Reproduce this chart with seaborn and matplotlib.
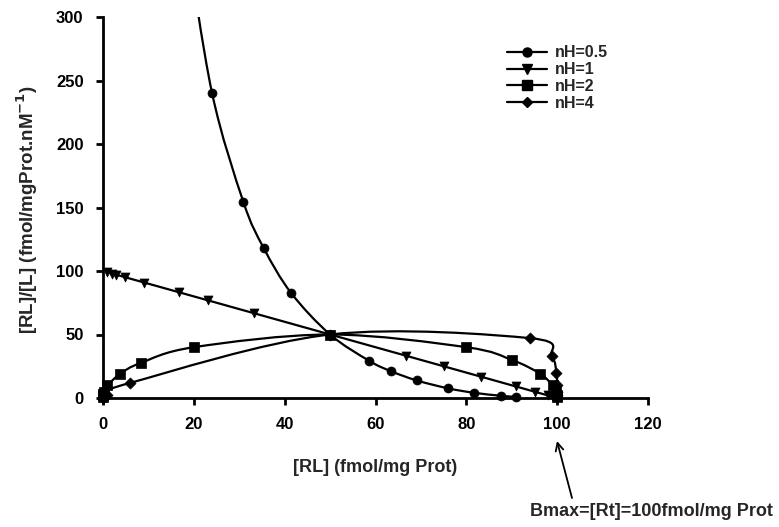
import numpy as np
import matplotlib
matplotlib.use("Agg")
import matplotlib.pyplot as plt
from matplotlib.path import Path
from matplotlib.patches import PathPatch
from matplotlib.lines import Line2D
import seaborn as sns
import pandas as pd

# ---- data ----
series_labels = ["nH=0.5", "nH=1", "nH=2", "nH=4"]
series_markers = ["o", "v", "s", "D"]

rl_05 = [18.3, 24.0, 30.9, 35.4, 41.4, 50.0, 58.6, 63.4, 69.1, 76.0, 81.7, 87.6, 90.9]
ratio_05 = [365, 240.3, 154.5, 118.0, 82.8, 50.0, 29.3, 21.1, 13.8, 7.6, 4.1, 1.75, 0.91]

rl_1 = [0.99, 1.96, 2.91, 4.76, 9.09, 16.7, 23.1, 33.3, 50.0, 66.7, 75.0, 83.3, 90.9, 95.2, 98.0, 99.0]
ratio_1 = [99.0, 98.0, 97.1, 95.2, 90.9, 83.3, 76.9, 66.7, 50.0, 33.3, 25.0, 16.7, 9.1, 4.8, 2.0, 1.0]

rl_2 = [0.01, 0.04, 0.09, 0.25, 0.99, 3.85, 8.26, 20.0, 50.0, 80.0, 90.0, 96.2, 99.0, 99.75, 99.96, 99.99]
ratio_2 = [1.0, 2.0, 3.0, 5.0, 9.9, 19.2, 27.5, 40.0, 50.0, 40.0, 30.0, 19.2, 9.9, 5.0, 2.0, 1.0]

rl_4 = [0.0, 0.0, 0.0, 0.0, 0.01, 0.16, 0.80, 5.88, 50.0, 94.1, 98.8, 99.84, 99.99, 100.0, 100.0, 100.0]
ratio_4 = [0.0, 0.0, 0.0, 0.01, 0.1, 0.8, 2.7, 11.8, 50.0, 47.1, 32.9, 20.0, 10.0, 5.0, 2.0, 1.0]

x_ticks = [0, 20, 40, 60, 80, 100, 120]
y_ticks = [0, 50, 100, 150, 200, 250, 300]

series_x = [rl_05, rl_1, rl_2, rl_4]
series_y = [ratio_05, ratio_1, ratio_2, ratio_4]

# ---- figure ----
sns.set_style("ticks")
plt.rcParams["font.family"] = ["Liberation Sans", "DejaVu Sans"]
plt.rcParams["font.weight"] = "bold"

W, H = 779, 527
fig = plt.figure(figsize=(W / 100, H / 100), dpi=100)
ax = fig.add_axes([103 / W, (H - 398) / H, (648 - 103) / W, (398 - 17) / H])


def smooth_path(xs, ys):
    """Excel-style smoothed line path through the data points."""
    P = np.column_stack([xs, ys]).astype(float)
    n = len(P)
    verts = [P[0]]
    codes = [Path.MOVETO]
    for i in range(n - 1):
        p0 = P[i - 1] if i > 0 else P[i]
        p3 = P[i + 2] if i + 2 < n else P[i + 1]
        c1 = P[i] + (P[i + 1] - p0) / 6.0
        c2 = P[i + 1] - (p3 - P[i]) / 6.0
        verts += [c1, c2, P[i + 1]]
        codes += [Path.CURVE4] * 3
    return Path(verts, codes)


for xs, ys, mk, lab in zip(series_x, series_y, series_markers, series_labels):
    patch = PathPatch(smooth_path(xs, ys), fill=False, edgecolor="black",
                      linewidth=1.6, transform=ax.transData)
    ax.add_patch(patch)
    df = pd.DataFrame({"x": xs, "y": ys})
    df = df[df["y"] <= 300]
    msize = 42 if mk != "D" else 32
    sns.scatterplot(data=df, x="x", y="y", marker=mk, color="black", s=msize,
                    edgecolor="black", linewidth=0.5, ax=ax, zorder=3,
                    clip_on=False, legend=False)

ax.set_xlim(0, 120)
ax.set_ylim(0, 300)
ax.set_xticks(x_ticks)
ax.set_yticks(y_ticks)
ax.set_xlabel("")
ax.set_ylabel("")
for s in ["top", "right"]:
    ax.spines[s].set_visible(False)
for s in ["left", "bottom"]:
    ax.spines[s].set_linewidth(2.0)
    ax.spines[s].set_color("black")
ax.tick_params(axis="both", direction="out", length=5, width=2, color="black",
               labelsize=12, pad=9, labelcolor="black")
for t in ax.get_xticklabels() + ax.get_yticklabels():
    t.set_fontweight("bold")

# axis titles
fig.text(375.5 / W, 1 - 468 / H, "[RL] (fmol/mg Prot)", ha="center", va="center",
         fontsize=13, fontweight="bold")
fig.text(27 / W, 1 - 210 / H, "[RL]/[L] (fmol/mgProt.nM$^{\\mathbf{-1}}$)", ha="center",
         va="center", rotation=90, fontsize=13.5, fontweight="bold")

# legend
handles = [Line2D([], [], color="black", lw=1.6, marker=m,
                  markersize=(6.5 if m != "D" else 5.5)) for m in series_markers]
leg = fig.legend(handles, series_labels, loc="upper left",
                 bbox_to_anchor=(496 / W, 1 - 34 / H), frameon=False,
                 fontsize=11.5, handlelength=2.5, handletextpad=0.5,
                 labelspacing=0.12, borderpad=0.2)
for t in leg.get_texts():
    t.set_fontweight("bold")

# Bmax annotation
fig.text(651 / W, 1 - 512 / H, "Bmax=[Rt]=100fmol/mg Prot", ha="center",
         va="center", fontsize=13, fontweight="bold")
ax.annotate("", xy=(557 / W, 1 - 441 / H), xycoords="figure fraction",
            xytext=(572 / W, 1 - 498 / H), textcoords="figure fraction",
            arrowprops=dict(arrowstyle="->", color="black", lw=1.3,
                            shrinkA=0, shrinkB=0, mutation_scale=14))

fig.savefig("out.png", dpi=100)
